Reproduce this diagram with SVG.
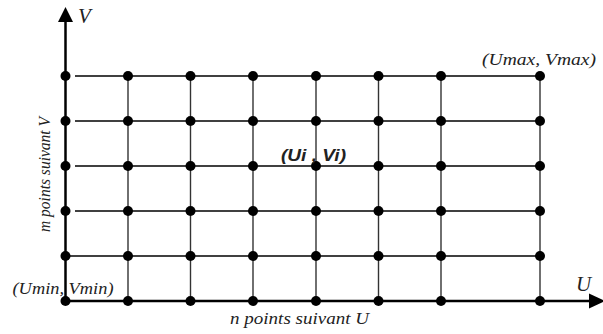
<svg xmlns="http://www.w3.org/2000/svg" width="603" height="334" viewBox="0 0 603 334">
<style>
.ax{stroke:#000;stroke-width:2.5;fill:none}
.gh{stroke:#000;stroke-width:1.4;fill:none}
.gv{stroke:#333;stroke-width:1.4;fill:none}
.dot{fill:#000}
.t{font-family:"Liberation Serif","Times New Roman",serif;font-style:italic;fill:#222}
.b{font-family:"Liberation Sans",Arial,sans-serif;font-style:italic;font-weight:bold;fill:#222}
</style>
<rect width="603" height="334" fill="#fff"/>
<g id="connectors">
<g id="grid-rows">
<line class="gh" x1="75" y1="76" x2="540" y2="76"/>
<line class="gh" x1="75" y1="121" x2="540" y2="121"/>
<line class="gh" x1="75" y1="166" x2="540" y2="166"/>
<line class="gh" x1="75" y1="211" x2="540" y2="211"/>
<line class="gh" x1="65.5" y1="256" x2="540" y2="256"/>
</g>
<g id="grid-cols">
<line class="gv" x1="128" y1="76" x2="128" y2="301"/>
<line class="gv" x1="190.5" y1="76" x2="190.5" y2="301"/>
<line class="gv" x1="253" y1="76" x2="253" y2="301"/>
<line class="gv" x1="316" y1="76" x2="316" y2="301"/>
<line class="gv" x1="378.5" y1="76" x2="378.5" y2="301"/>
<line class="gv" x1="441" y1="76" x2="441" y2="301"/>
<line class="gv" x1="540" y1="76" x2="540" y2="301"/>
</g>
<g id="axes">
<line class="ax" x1="65.5" y1="302" x2="65.5" y2="20"/>
<polygon points="65.5,7 58,22 73,22" fill="#000"/>
<line class="ax" x1="64" y1="301" x2="591" y2="301"/>
<polygon points="605,301 589,293.5 589,308.5" fill="#000"/>
</g>
</g>
<g id="points" class="dot">
<g id="row1"><circle cx="65.5" cy="76" r="5"/><circle cx="128" cy="76" r="5"/><circle cx="190.5" cy="76" r="5"/><circle cx="253" cy="76" r="5"/><circle cx="316" cy="76" r="5"/><circle cx="378.5" cy="76" r="5"/><circle cx="441" cy="76" r="5"/><circle cx="540" cy="76" r="5"/></g>
<g id="row2"><circle cx="65.5" cy="121" r="5"/><circle cx="128" cy="121" r="5"/><circle cx="190.5" cy="121" r="5"/><circle cx="253" cy="121" r="5"/><circle cx="316" cy="121" r="5"/><circle cx="378.5" cy="121" r="5"/><circle cx="441" cy="121" r="5"/><circle cx="540" cy="121" r="5"/></g>
<g id="row3"><circle cx="65.5" cy="166" r="5"/><circle cx="128" cy="166" r="5"/><circle cx="190.5" cy="166" r="5"/><circle cx="253" cy="166" r="5"/><circle cx="316" cy="166" r="5"/><circle cx="378.5" cy="166" r="5"/><circle cx="441" cy="166" r="5"/><circle cx="540" cy="166" r="5"/></g>
<g id="row4"><circle cx="65.5" cy="211" r="5"/><circle cx="128" cy="211" r="5"/><circle cx="190.5" cy="211" r="5"/><circle cx="253" cy="211" r="5"/><circle cx="316" cy="211" r="5"/><circle cx="378.5" cy="211" r="5"/><circle cx="441" cy="211" r="5"/><circle cx="540" cy="211" r="5"/></g>
<g id="row5"><circle cx="65.5" cy="256" r="5"/><circle cx="128" cy="256" r="5"/><circle cx="190.5" cy="256" r="5"/><circle cx="253" cy="256" r="5"/><circle cx="316" cy="256" r="5"/><circle cx="378.5" cy="256" r="5"/><circle cx="441" cy="256" r="5"/><circle cx="540" cy="256" r="5"/></g>
<g id="row6"><circle cx="65.5" cy="301" r="5"/><circle cx="128" cy="301" r="5"/><circle cx="190.5" cy="301" r="5"/><circle cx="253" cy="301" r="5"/><circle cx="316" cy="301" r="5"/><circle cx="378.5" cy="301" r="5"/><circle cx="441" cy="301" r="5"/><circle cx="540" cy="301" r="5"/></g>
</g>
<g id="labels">
<text class="t" x="78" y="23" font-size="21">V</text>
<text class="t" x="576" y="291" font-size="21">U</text>
<text class="t" x="482" y="65" font-size="17" textLength="114" lengthAdjust="spacingAndGlyphs">(Umax, Vmax)</text>
<text class="t" x="12.5" y="294" font-size="17" textLength="101" lengthAdjust="spacingAndGlyphs">(Umin, Vmin)</text>
<text class="b" x="281" y="161" font-size="17" textLength="65" lengthAdjust="spacingAndGlyphs">(Ui , Vi)</text>
<text class="t" x="230" y="324" font-size="17" textLength="139" lengthAdjust="spacingAndGlyphs">n points suivant U</text>
<text class="t" transform="translate(50,232) rotate(-90)" x="0" y="0" font-size="17" textLength="115" lengthAdjust="spacingAndGlyphs">m points suivant V</text>
</g>
</svg>
